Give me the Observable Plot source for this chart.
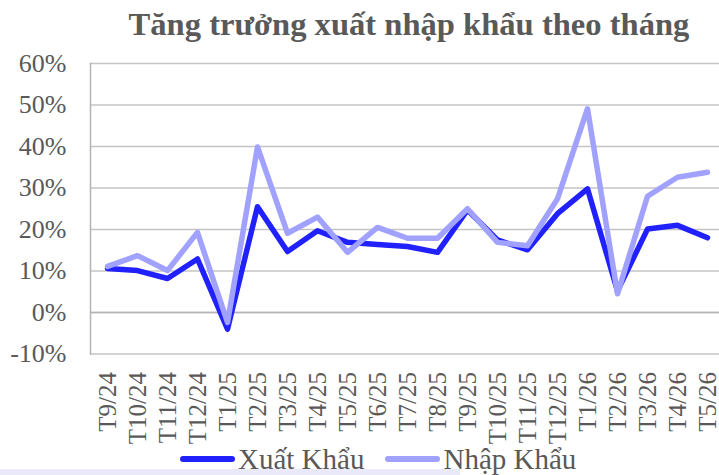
<!DOCTYPE html>
<html>
<head>
<meta charset="utf-8">
<script src="https://cdn.jsdelivr.net/npm/d3@7"></script>
<script src="https://cdn.jsdelivr.net/npm/@observablehq/plot@0.6"></script>
<style>
  html, body { margin: 0; padding: 0; background: #fff; }
  #wrap { position: relative; width: 719px; height: 475px; overflow: hidden; font-family: "Liberation Serif", "Times New Roman", serif; }
  #title { position: absolute; left: 0; width: 818px; top: 4px; text-align: center; font-weight: bold; font-size: 32.6px; line-height: 40px; color: #595959; font-family: "Liberation Serif", serif; }
  #legend { position: absolute; top: 443px; left: 180px; display: flex; align-items: center; font-size: 29px; line-height: 32px; color: #595959; white-space: nowrap; font-family: "Liberation Serif", serif; }
  .sw { display: inline-block; width: 55px; height: 6px; border-radius: 3px; margin-right: 3px; }
  #strip { position: absolute; left: 0; top: 469px; width: 460px; height: 6px; background: #e9e9f9; }
  #chart { position: absolute; left: 0; top: 0; }
  #chart svg g[aria-label="y-axis tick label"] text { font-family: "Liberation Serif", serif !important; font-size: 26px !important; fill: #595959; }
  #chart svg g[aria-label="x-axis tick label"] text { font-family: "Liberation Serif", serif !important; font-size: 25px !important; fill: #595959; }
</style>
</head>
<body>
<div id="wrap">
  <div id="strip"></div>
  <div id="chart"></div>
  <div id="title">Tăng trưởng xuất nhập khẩu theo tháng</div>
  <div id="legend"></div>
</div>
<script>
const months = ["T9/24","T10/24","T11/24","T12/24","T1/25","T2/25","T3/25","T4/25","T5/25","T6/25","T7/25","T8/25","T9/25","T10/25","T11/25","T12/25","T1/26","T2/26","T3/26","T4/26","T5/26"];
const xuatKhau = [10.6, 10.1, 8.2, 12.9, -4.0, 25.5, 14.7, 19.7, 16.9, 16.4, 15.9, 14.5, 24.7, 17.5, 15.1, 23.8, 29.8, 5.2, 20.1, 21.0, 18.0];
const nhapKhau = [11.1, 13.7, 10.1, 19.3, -2.4, 39.9, 19.1, 23.0, 14.5, 20.5, 17.9, 17.9, 25.0, 16.9, 16.1, 27.4, 49.1, 4.5, 28.0, 32.6, 33.8];
const yTicks = [-10, 0, 10, 20, 30, 40, 50, 60];
const seriesNames = ["Xuất Khẩu", "Nhập Khẩu"];
const seriesColors = ["#2121ff", "#a1a1ff"];

const rows = [];
months.forEach((m, i) => {
  rows.push({month: m, series: seriesNames[0], value: xuatKhau[i]});
});
months.forEach((m, i) => {
  rows.push({month: m, series: seriesNames[1], value: nhapKhau[i]});
});

const fontFam = "'Liberation Serif', serif";

const chart = Plot.plot({
  width: 719,
  height: 450,
  marginTop: 63,
  marginBottom: 96.5,
  marginLeft: 90,
  marginRight: 0,
  style: {fontFamily: fontFam, fontSize: "26px", color: "#595959", background: "transparent", overflow: "visible"},
  x: {type: "point", domain: months, range: [105, 708], padding: 0},
  y: {domain: [-10, 60]},
  color: {domain: seriesNames, range: seriesColors},
  marks: [
    Plot.ruleY(yTicks, {stroke: "#c4c4c4", strokeWidth: 1.5}),
    Plot.ruleY([0], {stroke: "#b4b4b4", strokeWidth: 1.5}),
    Plot.frame({anchor: "left", stroke: "#b4b4b4", strokeWidth: 1.5}),
    Plot.axisY({ticks: yTicks, tickSize: 0, tickPadding: 24, tickFormat: d => `${d}%`, fill: "#595959", fontSize: 26, label: null}),
    Plot.axisX({tickSize: 0, tickPadding: 18, tickRotate: -90, fill: "#595959", fontSize: 25, label: null}),
    Plot.line(rows, {x: "month", y: "value", z: "series", stroke: "series", strokeWidth: 5.5, strokeLinejoin: "round", strokeLinecap: "round"})
  ]
});
document.getElementById("chart").appendChild(chart);

const legend = document.getElementById("legend");
seriesNames.forEach((name, i) => {
  const item = document.createElement("span");
  item.style.display = "inline-flex";
  item.style.alignItems = "center";
  item.style.marginRight = i === 0 ? "21px" : "0";
  const sw = document.createElement("span");
  sw.className = "sw";
  sw.style.background = seriesColors[i];
  const t = document.createElement("span");
  t.textContent = name;
  item.appendChild(sw);
  item.appendChild(t);
  legend.appendChild(item);
});
</script>
</body>
</html>
